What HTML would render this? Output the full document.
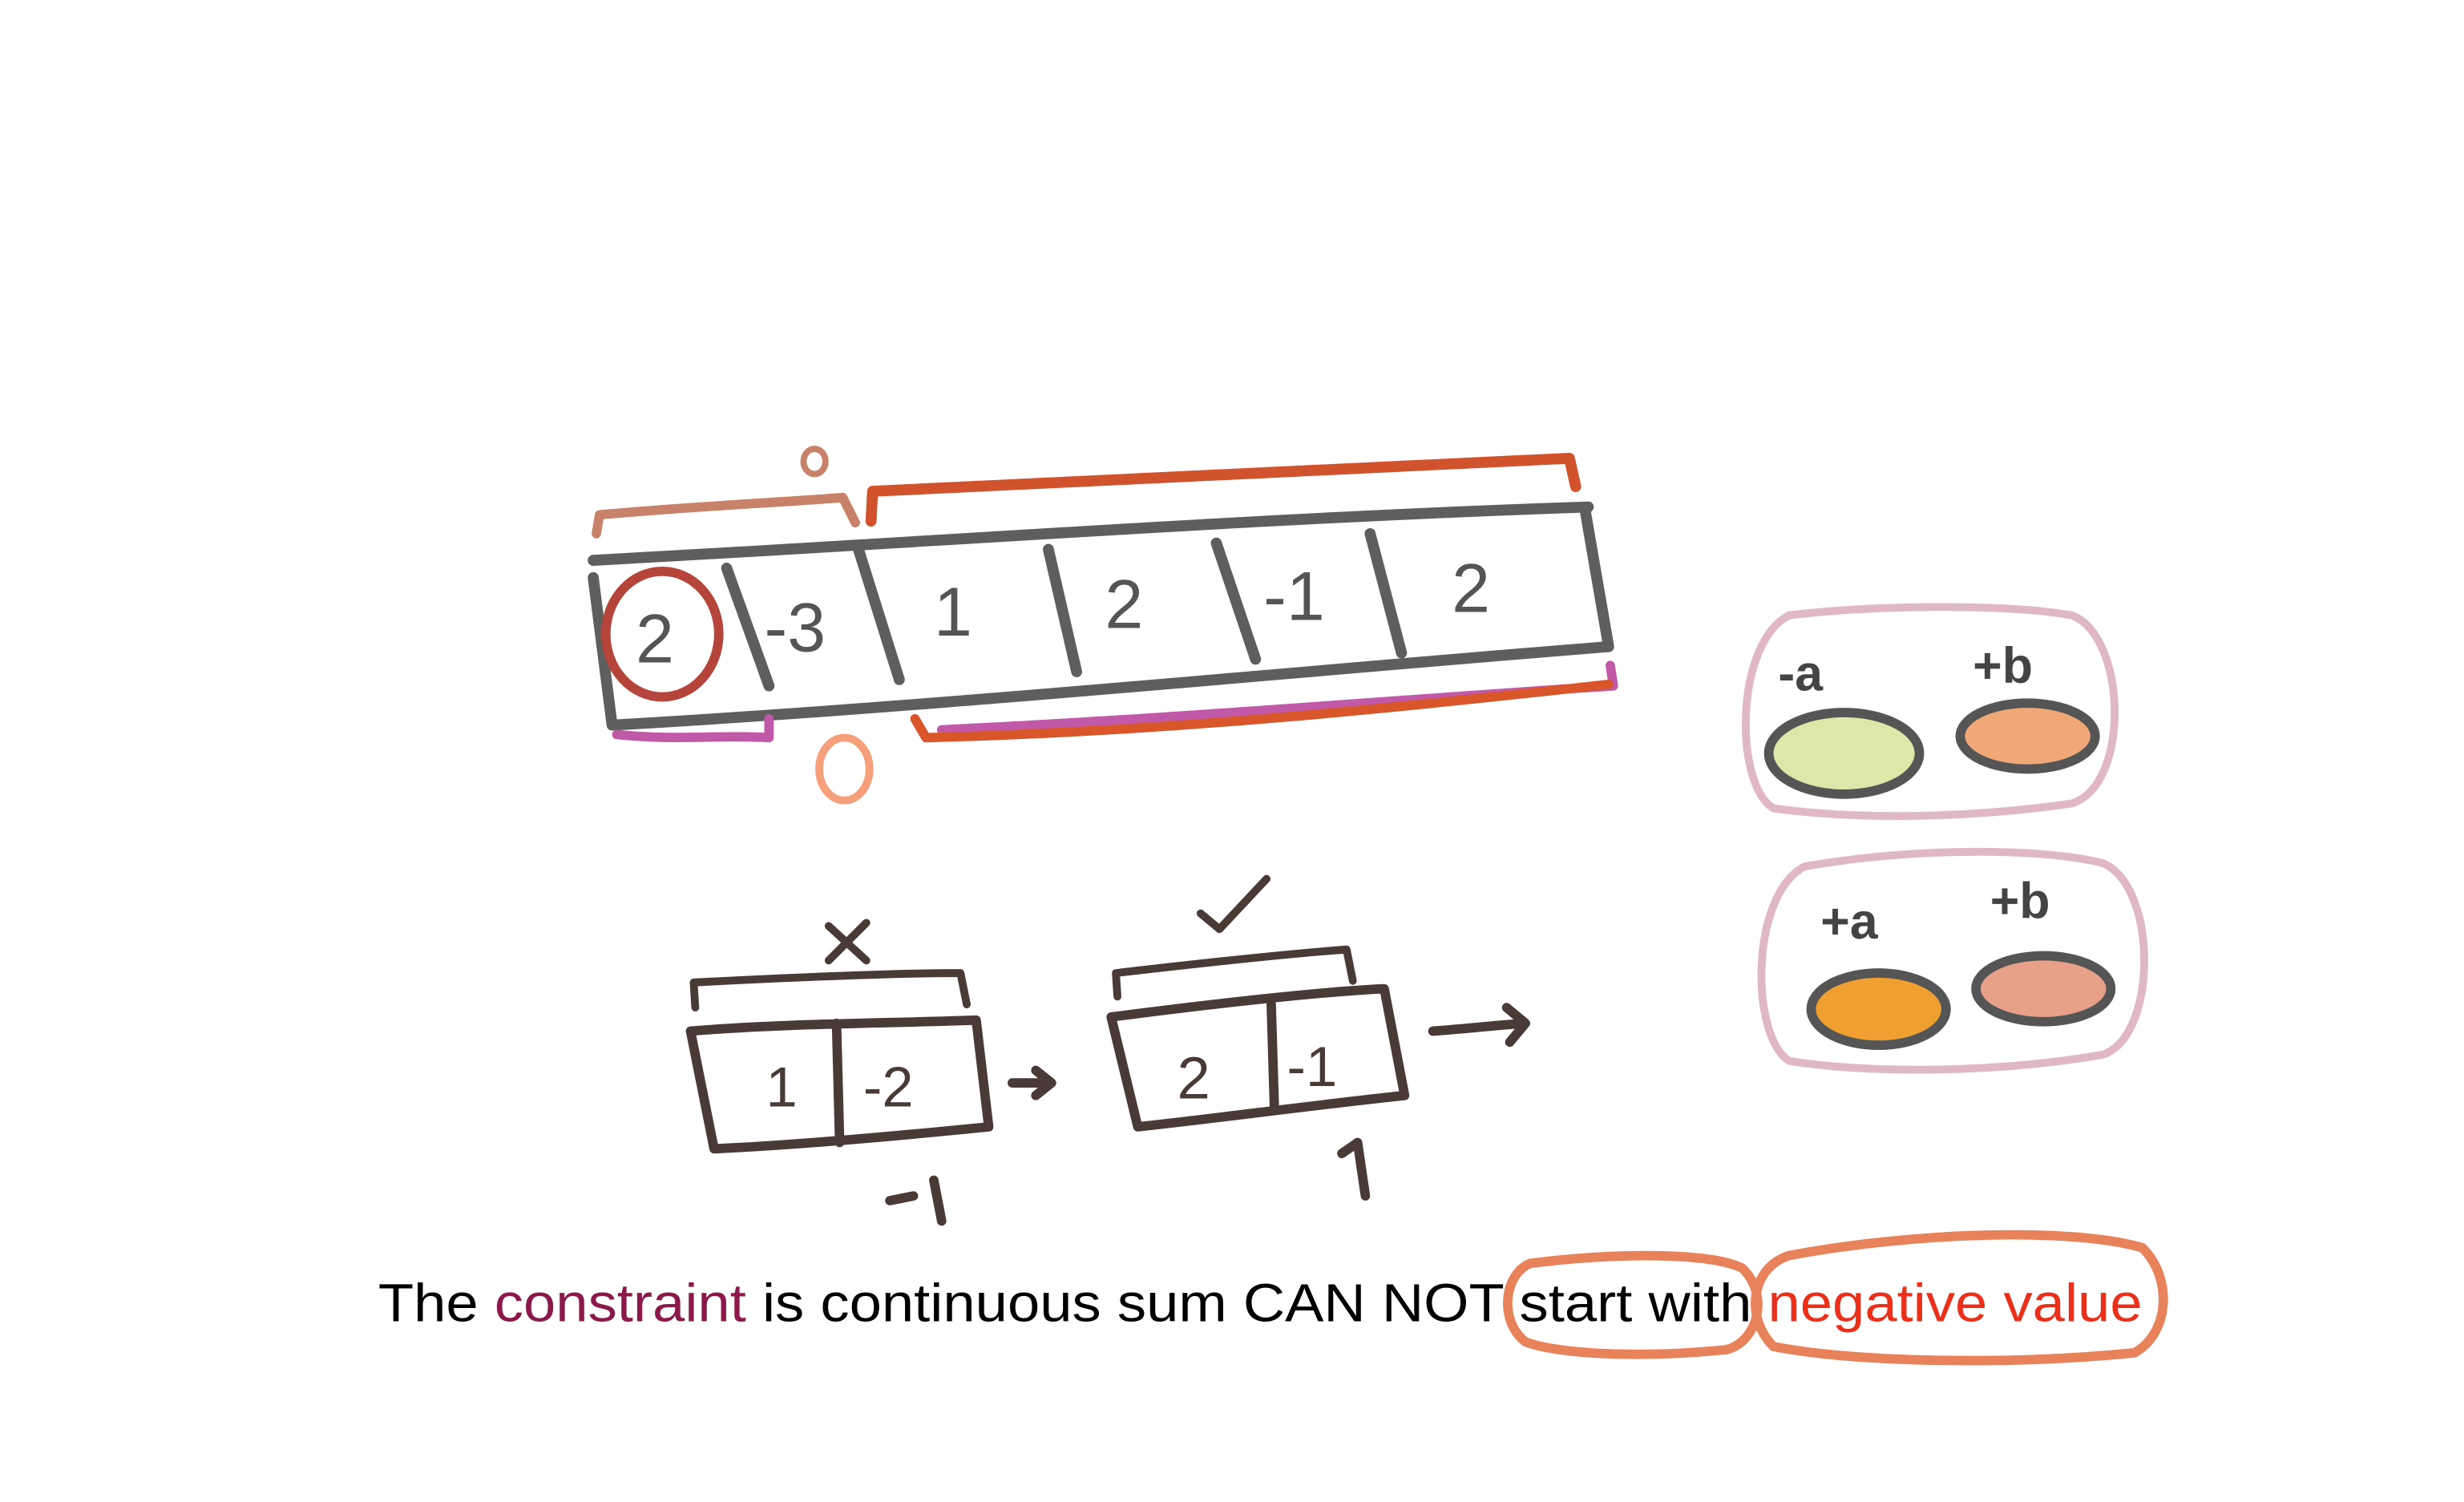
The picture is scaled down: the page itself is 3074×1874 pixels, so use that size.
<!DOCTYPE html>
<html><head><meta charset="utf-8"><style>
html,body{margin:0;padding:0;background:#fff;}
svg{display:block;}
.s{fill:none;stroke-linecap:round;stroke-linejoin:round;}
.h{font-family:"Liberation Sans",sans-serif;}
</style></head><body>
<svg width="3074" height="1874" viewBox="0 0 1570 957">
<g>
 <path class="s" stroke="#5e5e5e" stroke-width="7" d="M378 357 C600 345 800 330 1012 323 M390 462 C600 450 800 430 1025 412 M378 368 L390 462 M1010 325 L1025 412 M463 362 L490 437 M547 350 L573 433 M668 350 L686 428 M775 346 L800 420 M873 340 L893 416"/>
 <g class="h" fill="#555" font-size="44">
  <text x="405" y="422">2</text><text x="487" y="415">-3</text><text x="595" y="405">1</text>
  <text x="704" y="400">2</text><text x="805" y="395">-1</text><text x="925" y="390">2</text>
 </g>
 <ellipse class="s" cx="422" cy="404" rx="36" ry="40" stroke="#b5443a" stroke-width="6"/>
</g>
<g>
 <path class="s" stroke="#c9826a" stroke-width="6" d="M380 340 L382 328 C450 322 500 320 537 317 L545 333"/>
 <ellipse class="s" cx="519" cy="294" rx="7" ry="8" stroke="#c9826a" stroke-width="4"/>
 <path class="s" stroke="#d0532e" stroke-width="7" d="M555 332 L556 313 C700 305 850 298 1000 292 L1004 310"/>
 <path class="s" stroke="#c05aa8" stroke-width="6" d="M393 468 C430 472 460 468 490 470 L490 458"/>
 <path class="s" stroke="#c05aa8" stroke-width="6" d="M600 465 C750 458 900 445 1028 437 L1026 424"/>
 <path class="s" stroke="#d9552a" stroke-width="6" d="M583 458 L590 470 C750 466 900 450 1025 436"/>
 <ellipse class="s" cx="538" cy="490" rx="16" ry="20" stroke="#f5a07a" stroke-width="5"/>
</g>
<g>
 <path class="s" stroke="#e0b8c3" stroke-width="5" d="M1140 392 C1200 385 1280 385 1320 392 C1355 405 1358 500 1320 512 C1250 522 1180 522 1130 515 C1105 500 1105 410 1140 392Z"/>
 <text class="h" x="1133" y="440" font-size="32" font-weight="bold" fill="#444">-a</text>
 <text class="h" x="1257" y="435" font-size="32" font-weight="bold" fill="#444">+b</text>
 <ellipse cx="1175" cy="480" rx="48" ry="26" fill="#dbe8a8" stroke="#555" stroke-width="6"/>
 <ellipse cx="1292" cy="469" rx="43" ry="21" fill="#f0a878" stroke="#555" stroke-width="6"/>
</g>
<g>
 <path class="s" stroke="#e0b8c3" stroke-width="5" d="M1150 552 C1220 540 1300 540 1340 550 C1375 565 1375 660 1340 672 C1270 684 1190 684 1140 676 C1115 660 1115 570 1150 552Z"/>
 <text class="h" x="1160" y="598" font-size="32" font-weight="bold" fill="#444">+a</text>
 <text class="h" x="1268" y="585" font-size="32" font-weight="bold" fill="#444">+b</text>
 <ellipse cx="1197" cy="643" rx="43" ry="23" fill="#f0a030" stroke="#555" stroke-width="6"/>
 <ellipse cx="1302" cy="630" rx="43" ry="21" fill="#e8a088" stroke="#555" stroke-width="6"/>
</g>
<g stroke="#4a3a36">
 <path class="s" stroke-width="5" d="M443 642 L442 626 C520 622 580 620 612 620 L616 640 M528 590 L552 612 M552 588 L528 612"/>
 <path class="s" stroke-width="6" d="M440 657 C500 652 570 652 622 650 L630 718 C560 725 500 730 455 732 Z M533 652 L535 728 M645 690 L670 690 M660 682 L670 690 L660 698 M567 765 L582 762 M595 752 L600 778"/>
 <text class="h" x="488" y="705" font-size="36" fill="#4a3a36" stroke="none">1</text>
 <text class="h" x="550" y="705" font-size="36" fill="#4a3a36" stroke="none">-2</text>
</g>
<g stroke="#4a3a36">
 <path class="s" stroke-width="5" d="M712 635 L711 620 C780 612 830 607 858 605 L862 625 M765 582 L777 592 L807 560"/>
 <path class="s" stroke-width="6" d="M708 648 C770 640 840 632 882 630 L895 698 C830 705 780 712 725 718 Z M810 640 L812 706 M913 657 C940 655 955 653 972 652 M960 642 L972 652 L962 664 M865 728 L870 762 M855 735 L865 728"/>
 <text class="h" x="750" y="700" font-size="38" fill="#4a3a36" stroke="none">2</text>
 <text class="h" x="820" y="692" font-size="36" fill="#4a3a36" stroke="none">-1</text>
</g>
<text class="h" x="241" y="842" font-size="34" fill="#000" textLength="1124" lengthAdjust="spacingAndGlyphs">The <tspan fill="#8b1a4a">constraint</tspan> is continuous sum CAN NOT start with <tspan fill="#e8301a">negative value</tspan></text>
<path class="s" stroke="#e8825a" stroke-width="6" d="M975 805 C1030 798 1090 798 1110 808 C1128 825 1120 855 1100 860 C1040 866 990 862 972 855 C955 842 958 812 975 805Z"/>
<path class="s" stroke="#e8825a" stroke-width="6" d="M1140 800 C1220 785 1320 782 1365 795 C1385 815 1382 850 1360 862 C1280 870 1180 868 1130 858 C1112 840 1115 808 1140 800Z"/>
</svg>
</body></html>
